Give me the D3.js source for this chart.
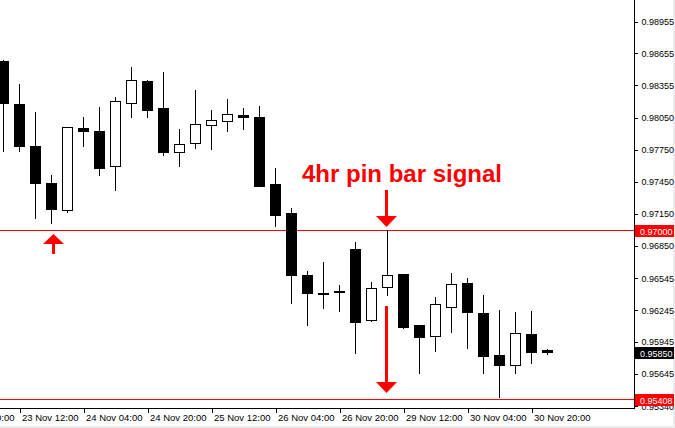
<!DOCTYPE html>
<html><head><meta charset="utf-8">
<script src="https://cdn.jsdelivr.net/npm/d3@7"></script>
<style>
body{margin:0;background:#fff}
svg{display:block}
text{font-family:"Liberation Sans",Arial,sans-serif}
</style>
</head><body>
<svg id="c" width="675" height="428"></svg>
<script>
// 4-hour candles (bar index 0 = leftmost, partially cut)
const opens  = [0.98584,0.98180,0.97786,0.97439,0.97188,0.97955,0.97927,0.97595,0.98187,0.98396,0.98140,0.97727,0.97811,0.97980,0.98018,0.98074,0.98058,0.97429,0.97157,0.96575,0.96410,0.96420,0.96819,0.96149,0.96459,0.96584,0.96102,0.96005,0.96271,0.96497,0.96215,0.95821,0.95727,0.96018,0.95868];
const highs  = [0.98594,0.98368,0.98105,0.97514,0.97965,0.98058,0.98152,0.98246,0.98528,0.98406,0.98481,0.97946,0.98312,0.98124,0.98227,0.98143,0.98164,0.97579,0.97207,0.96612,0.96697,0.96481,0.96885,0.96509,0.96995,0.96584,0.96102,0.96368,0.96596,0.96547,0.96384,0.96246,0.96224,0.96237,0.95880];
const lows   = [0.97742,0.97742,0.97113,0.97066,0.97169,0.97789,0.97516,0.97376,0.98061,0.98061,0.97704,0.97601,0.97770,0.97761,0.97930,0.97948,0.97410,0.97038,0.96315,0.96108,0.96268,0.96239,0.95839,0.96145,0.96390,0.96080,0.95657,0.95864,0.96042,0.95892,0.95657,0.95432,0.95657,0.95751,0.95836];
const closes = [0.98190,0.97789,0.97441,0.97197,0.97962,0.97930,0.97582,0.98206,0.98403,0.98127,0.97732,0.97802,0.97990,0.98027,0.98084,0.98061,0.97413,0.97141,0.96578,0.96408,0.96408,0.96418,0.96138,0.96450,0.96572,0.96089,0.95995,0.96300,0.96487,0.96224,0.95811,0.95732,0.96027,0.95854,0.95850];

const timeTickIndex  = [-3,1,5,9,13,17,21,25,29,33];
const timeTickLabels = ["22 Nov 20:00","23 Nov 12:00","24 Nov 04:00","24 Nov 20:00","25 Nov 12:00","26 Nov 04:00","26 Nov 20:00","29 Nov 12:00","30 Nov 04:00","30 Nov 20:00"];
const priceTicks = [0.98955,0.98655,0.98355,0.98050,0.97750,0.97450,0.97150,0.96850,0.96545,0.96245,0.95945,0.95645,0.95340];

const levelPrices = [0.97000, 0.95408];
const pinBarIndex = 24;
const upArrowIndex = 3;
const annotationText = "4hr pin bar signal";

const svg = d3.select("#c");
const W = 675, H = 428, plotR = 634, plotB = 408;

// window border strip
svg.append("rect").attr("x",0).attr("y",0).attr("width",W).attr("height",H).attr("fill","#ececec");
svg.append("rect").attr("x",0).attr("y",0).attr("width",673).attr("height",426).attr("fill","#fff");

const x = d3.scaleLinear().domain([0,34]).range([3,547]);
const y = d3.scaleLinear().domain([0.953259,0.991569]).range([plotB,0]);
const py = v => Math.round(y(v));

const data = opens.map((o,i)=>({i,o,h:highs[i],l:lows[i],c:closes[i]}));

const plot = svg.append("g");
plot.append("defs").append("clipPath").attr("id","clip")
  .append("rect").attr("x",0).attr("y",0).attr("width",plotR).attr("height",plotB);
const g = plot.append("g").attr("clip-path","url(#clip)");

// level lines
g.selectAll("line.level").data(levelPrices).enter().append("line")
  .attr("x1",0).attr("x2",plotR)
  .attr("y1",d=>py(d)+0.5).attr("y2",d=>py(d)+0.5)
  .attr("stroke","#ff0000").attr("stroke-width",1).attr("shape-rendering","crispEdges");

// candles
const cg = g.selectAll("g.candle").data(data).enter().append("g");
cg.append("line")
  .attr("x1",d=>x(d.i)+0.5).attr("x2",d=>x(d.i)+0.5)
  .attr("y1",d=>py(d.h)).attr("y2",d=>py(d.l)+1)
  .attr("stroke","#000").attr("stroke-width",1).attr("shape-rendering","crispEdges");
cg.append("rect")
  .attr("x",d=>x(d.i)-5+0.5)
  .attr("y",d=>py(Math.max(d.o,d.c))+0.5)
  .attr("width",10)
  .attr("height",d=>Math.max(1, py(Math.min(d.o,d.c))-py(Math.max(d.o,d.c))))
  .attr("fill",d=>d.c>d.o?"#fff":"#000")
  .attr("stroke","#000").attr("stroke-width",1).attr("shape-rendering","crispEdges");

// frame
svg.append("line").attr("x1",plotR+0.5).attr("x2",plotR+0.5).attr("y1",0).attr("y2",plotB+1)
  .attr("stroke","#000").attr("shape-rendering","crispEdges");
svg.append("line").attr("x1",0).attr("x2",plotR+1).attr("y1",plotB+0.5).attr("y2",plotB+0.5)
  .attr("stroke","#000").attr("shape-rendering","crispEdges");

// right price axis
const ya = d3.axisRight(y).tickValues(priceTicks).tickSize(3).tickPadding(4).tickFormat(d3.format(".5f"));
const yg = svg.append("g").attr("transform",`translate(${plotR+0.5},0)`).call(ya);
yg.select(".domain").remove();
yg.selectAll("line").attr("stroke","#000").attr("shape-rendering","crispEdges");
yg.selectAll("text").attr("font-size","9px").attr("fill","#000").attr("font-family","'Liberation Sans',Arial,sans-serif");

// bottom time axis
const xa = d3.axisBottom(x).tickValues(timeTickIndex).tickSize(4).tickFormat((d,k)=>timeTickLabels[k]);
const xg = svg.append("g").attr("transform",`translate(0.5,${plotB+0.5})`).call(xa);
xg.select(".domain").remove();
xg.selectAll("line").attr("stroke","#000").attr("shape-rendering","crispEdges");
xg.selectAll("text").attr("text-anchor","start").attr("dx","2px").attr("dy","0.55em")
  .attr("font-size","9.5px").attr("fill","#000").attr("font-family","'Liberation Sans',Arial,sans-serif");

// price label boxes
const boxes = [
  {v:levelPrices[0], bg:"#ff0000"},
  {v:closes[closes.length-1], bg:"#000"},
  {v:levelPrices[1], bg:"#ff0000"}
];
const bg = svg.selectAll("g.box").data(boxes).enter().append("g");
bg.append("rect").attr("x",plotR+1).attr("y",d=>py(d.v)-5).attr("width",39).attr("height",12).attr("fill",d=>d.bg);
bg.append("text").attr("x",plotR+6).attr("y",d=>py(d.v)+4.5).attr("font-size","9px").attr("fill","#fff")
  .text(d=>d3.format(".5f")(d.v));

// annotation
const red = "#ff0000";
const px = x(pinBarIndex);
svg.append("text").attr("x",px-85).attr("y",182).attr("font-size","24px").attr("font-weight","bold")
  .attr("fill",red).text(annotationText);

function downArrow(cx, y0, tipY){
  svg.append("rect").attr("x",cx-1).attr("y",y0).attr("width",3).attr("height",tipY-11-y0+1).attr("fill",red);
  svg.append("path").attr("d",`M${cx-10},${tipY-11} L${cx+11},${tipY-11} L${cx+0.5},${tipY} Z`).attr("fill",red);
}
function upArrow(cx, tipY, y1){
  svg.append("rect").attr("x",cx-1).attr("y",tipY+10).attr("width",3).attr("height",y1-tipY-10).attr("fill",red);
  svg.append("path").attr("d",`M${cx-10},${tipY+10} L${cx+11},${tipY+10} L${cx+0.5},${tipY} Z`).attr("fill",red);
}
downArrow(px-1, 190, py(highs[pinBarIndex])-3);
downArrow(px-1, 306, py(levelPrices[1])-6);
upArrow(x(upArrowIndex)+2, py(levelPrices[0])+4, 254);
</script>
</body></html>
